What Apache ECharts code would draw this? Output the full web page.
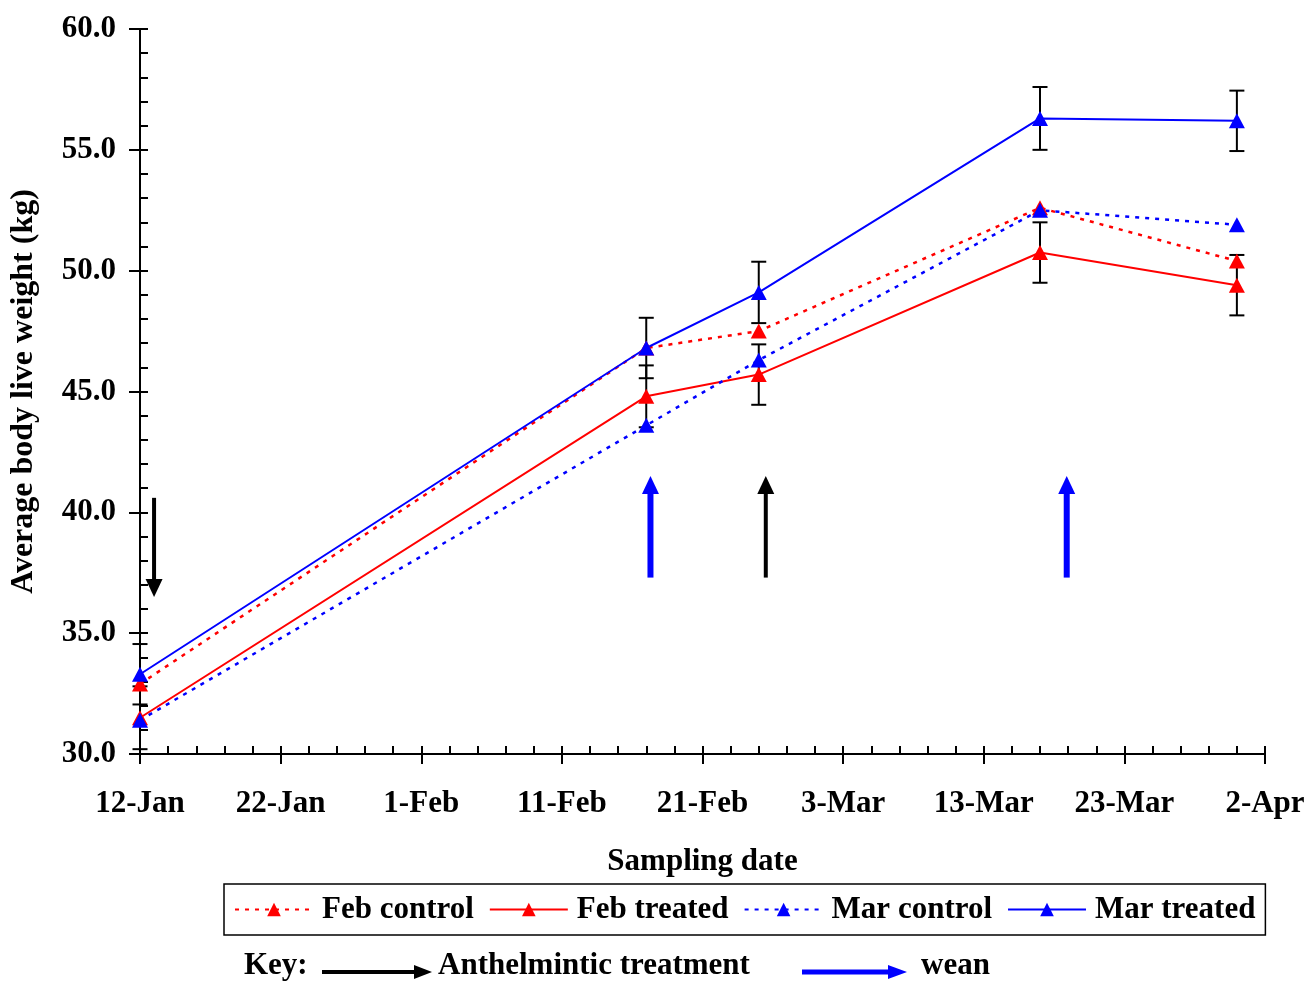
<!DOCTYPE html>
<html>
<head>
<meta charset="utf-8">
<title>Average body live weight</title>
<script src="https://cdn.jsdelivr.net/npm/echarts@6/dist/echarts.min.js"></script>
<style>
  html, body { margin: 0; padding: 0; background: #fff; }
  #chart { width: 1308px; height: 981px; }
</style>
</head>
<body>
<div id="chart"></div>
<script>
// ---- data -------------------------------------------------------------
const MONTHS = ['Jan', 'Feb', 'Mar', 'Apr', 'May', 'Jun', 'Jul', 'Aug', 'Sep', 'Oct', 'Nov', 'Dec'];
const startLabel = '12-Jan';
const tickLabels = ['12-Jan', '22-Jan', '1-Feb', '11-Feb', '21-Feb', '3-Mar', '13-Mar', '23-Mar', '2-Apr'];
const samplingDates = ['12-Jan', '17-Feb', '25-Feb', '17-Mar', '31-Mar'];

const febControl = [32.9, 46.8, 47.5, 52.6, 50.4];
const febTreated = [31.5, 44.8, 45.7, 50.75, 49.4];
const marControl = [31.4, 43.6, 46.3, 52.5, 51.9];
const marTreated = [33.3, 46.8, 49.1, 56.3, 56.2];

// +/- error for the treated groups
const febTreatedErr = [1.3, 1.28, 1.25, 1.25, 1.25];
const marTreatedErr = [1.25, 1.25, 1.27, 1.3, 1.25];

// event arrows: days after 12-Jan, start weight, tip weight, kind (0 = anthelmintic, 1 = wean)
const arrowDays = [1, 36.3, 44.5, 65.9];
const arrowFrom = [40.6, 37.3, 37.3, 37.3];
const arrowTo = [36.5, 41.5, 41.5, 41.5];
const arrowKind = [0, 1, 0, 1];

// ---- helpers ----------------------------------------------------------
function dayOf(label) {
  const [d, m] = label.split('-');
  const [d0, m0] = startLabel.split('-');
  return (Date.UTC(2009, MONTHS.indexOf(m), +d) - Date.UTC(2009, MONTHS.indexOf(m0), +d0)) / 86400000;
}
const days = samplingDates.map(dayOf);
const pairs = vals => days.map((d, i) => [d, vals[i]]);
const bars = (vals, err) => days.map((d, i) => [d, vals[i] - err[i], vals[i] + err[i]]);

const FONT = '"Liberation Serif", "Times New Roman", serif';
const FS = 31;
const RED = '#ff0000';
const BLUE = '#0000ff';
const BLACK = '#000000';
const boldText = { fontFamily: FONT, fontWeight: 'bold', fontSize: FS, color: BLACK };

function errorBarItem(params, api) {
  const x = api.value(0);
  const lo = api.coord([x, api.value(1)]);
  const hi = api.coord([x, api.value(2)]);
  const half = 7.5;
  const style = { stroke: BLACK, lineWidth: 2 };
  return {
    type: 'group',
    children: [
      { type: 'line', shape: { x1: lo[0], y1: lo[1], x2: hi[0], y2: hi[1] }, style },
      { type: 'line', shape: { x1: lo[0] - half, y1: lo[1], x2: lo[0] + half, y2: lo[1] }, style },
      { type: 'line', shape: { x1: hi[0] - half, y1: hi[1], x2: hi[0] + half, y2: hi[1] }, style }
    ]
  };
}

function arrowItem(params, api) {
  const x = api.value(0);
  const p0 = api.coord([x, api.value(1)]);
  const p1 = api.coord([x, api.value(2)]);
  const kind = api.value(3);
  const color = kind === 1 ? BLUE : BLACK;
  const width = kind === 1 ? 6 : 4;
  const headLen = 18, headW = 17;
  const dir = Math.sign(p1[1] - p0[1]);
  const base = p1[1] - dir * headLen;
  return {
    type: 'group',
    children: [
      { type: 'line', shape: { x1: p0[0], y1: p0[1], x2: p0[0], y2: base + dir }, style: { stroke: color, lineWidth: width } },
      { type: 'polygon', shape: { points: [[p1[0] - headW / 2, base], [p1[0] + headW / 2, base], [p1[0], p1[1]]] }, style: { fill: color } }
    ]
  };
}

function lineSeries(name, vals, color, dotted) {
  return {
    name, type: 'line', data: pairs(vals),
    symbol: 'triangle', symbolSize: [16, 15],
    itemStyle: { color },
    lineStyle: dotted ? { color, width: 2.5, type: [4, 6] } : { color, width: 2, type: 'solid' },
    emphasis: { disabled: true },
    animation: false, z: 3
  };
}

// ---- chart ------------------------------------------------------------
const xBase = { type: 'value', min: 0, max: 80, interval: 10, splitLine: { show: false } };
const yBase = { type: 'value', min: 30, max: 60, interval: 5, splitLine: { show: false } };
const axisStroke = { color: BLACK, width: 2 };

const chart = echarts.init(document.getElementById('chart'));
chart.setOption({
  backgroundColor: '#fff',
  animation: false,
  grid: { left: 140, right: 43, top: 29, bottom: 227, containLabel: false, outerBoundsMode: 'none' },
  xAxis: [
    {
      ...xBase, position: 'bottom',
      axisLine: { lineStyle: axisStroke },
      axisTick: { length: 10, lineStyle: axisStroke },
      axisLabel: { ...boldText, margin: 34, formatter: v => tickLabels[Math.round(v / 10)] },
      name: 'Sampling date', nameLocation: 'middle', nameGap: 92,
      nameTextStyle: { ...boldText }
    },
    {
      ...xBase, position: 'bottom',
      axisLine: { show: false },
      axisTick: { inside: true, length: 8, lineStyle: axisStroke },
      minorTick: { show: true, splitNumber: 5, length: 8, lineStyle: axisStroke },
      axisLabel: { show: false }
    }
  ],
  yAxis: [
    {
      ...yBase, position: 'left',
      axisLine: { lineStyle: axisStroke },
      axisTick: { length: 11, lineStyle: axisStroke },
      axisLabel: { ...boldText, margin: 24, formatter: v => v.toFixed(1) },
      name: 'Average body live weight (kg)', nameLocation: 'middle', nameGap: 100,
      nameTextStyle: { ...boldText, fontSize: 32 }
    },
    {
      ...yBase, position: 'left',
      axisLine: { show: false },
      axisTick: { inside: true, length: 8, lineStyle: axisStroke },
      minorTick: { show: true, splitNumber: 5, length: 8, lineStyle: axisStroke },
      axisLabel: { show: false }
    }
  ],
  legend: {
    data: ['Feb control', 'Feb treated', 'Mar control', 'Mar treated'],
    left: 224, top: 884,
    itemWidth: 78, itemHeight: 17, itemGap: 15,
    padding: [10, 10],
    borderColor: BLACK, borderWidth: 1.5,
    selectedMode: false,
    textStyle: { ...boldText, padding: [0, 0, 0, 4] }
  },
  series: [
    {
      name: 'Feb treated error', type: 'custom', renderItem: errorBarItem,
      data: bars(febTreated, febTreatedErr), encode: { x: 0, y: [1, 2] }, clip: false, z: 2, silent: true
    },
    {
      name: 'Mar treated error', type: 'custom', renderItem: errorBarItem,
      data: bars(marTreated, marTreatedErr), encode: { x: 0, y: [1, 2] }, clip: false, z: 2, silent: true
    },
    {
      name: 'events', type: 'custom', renderItem: arrowItem,
      data: arrowDays.map((d, i) => [d, arrowFrom[i], arrowTo[i], arrowKind[i]]),
      encode: { x: 0, y: [1, 2] }, clip: false, z: 2, silent: true
    },
    lineSeries('Feb control', febControl, RED, true),
    lineSeries('Feb treated', febTreated, RED, false),
    lineSeries('Mar control', marControl, BLUE, true),
    lineSeries('Mar treated', marTreated, BLUE, false)
  ],
  graphic: [
    { type: 'text', left: 244, top: 950, style: { text: 'Key:', font: 'bold ' + FS + 'px ' + FONT, fill: BLACK } },
    { type: 'line', shape: { x1: 322, y1: 972, x2: 416, y2: 972 }, style: { stroke: BLACK, lineWidth: 4 } },
    { type: 'polygon', shape: { points: [[414, 965], [414, 979], [432, 972]] }, style: { fill: BLACK } },
    { type: 'text', left: 438, top: 950, style: { text: 'Anthelmintic treatment', font: 'bold ' + FS + 'px ' + FONT, fill: BLACK } },
    { type: 'line', shape: { x1: 802, y1: 972, x2: 890, y2: 972 }, style: { stroke: BLUE, lineWidth: 5 } },
    { type: 'polygon', shape: { points: [[888, 965], [888, 979], [907, 972]] }, style: { fill: BLUE } },
    { type: 'text', left: 921, top: 950, style: { text: 'wean', font: 'bold ' + FS + 'px ' + FONT, fill: BLACK } }
  ]
});
</script>
</body>
</html>
